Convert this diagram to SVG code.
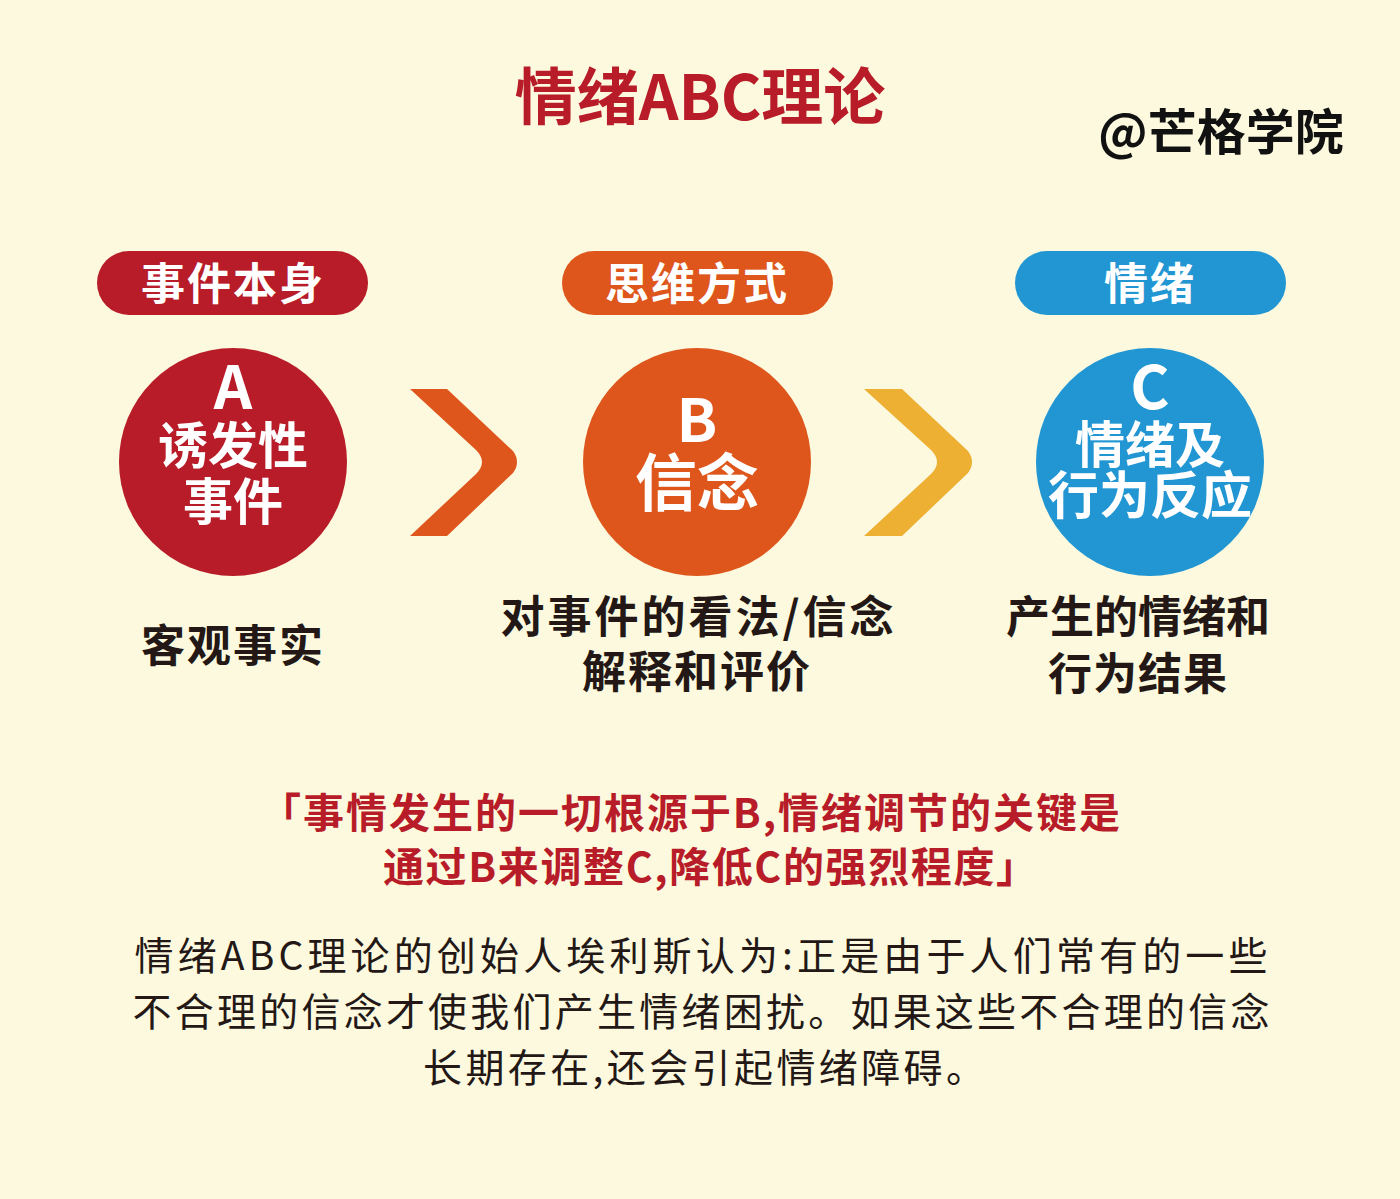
<svg xmlns="http://www.w3.org/2000/svg" width="1400" height="1199" viewBox="0 0 1400 1199">
<style>
.cjk{font-family:"Noto Sans CJK SC","Noto Sans",sans-serif}
.b{font-weight:700}
.w{fill:#FFFFFF}
.red{fill:#B71C28}
.dark{fill:#231815}
.mid{text-anchor:middle}
</style>
<rect x="0" y="0" width="1400" height="1199" fill="#FCF9DF"/>
<g id="title">
<text class="cjk b red mid" x="700" y="120" font-size="62">情绪ABC理论</text>
</g>
<g id="watermark">
<text class="cjk b mid" x="1221" y="150" font-size="49" fill="#111">@芒格学院</text>
</g>
<g id="connectors">
<path d="M410,389 L447,389 L513,451 Q521,462 513,473 L447,536 L410,536 L476,474 Q488,462 476,450 Z" fill="#DE561C"/>
<path d="M864,389 L902,389 L968,451 Q976,462 968,473 L902,536 L864,536 L931,474 Q943,462 931,450 Z" fill="#EDB033"/>
</g>
<g id="node-a">
<rect x="97" y="251" width="271" height="64" rx="32" fill="#B71C28"/>
<text class="cjk b w mid" x="233" y="300" font-size="44" letter-spacing="2">事件本身</text>
<circle cx="233" cy="462" r="114" fill="#B71C28"/>
<text class="cjk b w mid" x="233" y="409" font-size="60">A</text>
<text class="cjk b w mid" x="233" y="464" font-size="50">诱发性</text>
<text class="cjk b w mid" x="233" y="520" font-size="50">事件</text>
<text class="cjk b dark mid" x="233" y="662" font-size="44" letter-spacing="2">客观事实</text>
</g>
<g id="node-b">
<rect x="562" y="251" width="271" height="64" rx="32" fill="#DE561C"/>
<text class="cjk b w mid" x="697" y="300" font-size="44" letter-spacing="2">思维方式</text>
<circle cx="697" cy="462" r="114" fill="#DE561C"/>
<text class="cjk b w mid" x="697" y="442" font-size="60">B</text>
<text class="cjk b w mid" x="697" y="506" font-size="62">信念</text>
<text class="cjk b dark mid" x="697" y="633" font-size="44" textLength="393" lengthAdjust="spacing">对事件的看法/信念</text>
<text class="cjk b dark mid" x="697" y="688" font-size="44" letter-spacing="2">解释和评价</text>
</g>
<g id="node-c">
<rect x="1015" y="251" width="271" height="64" rx="32" fill="#2196D3"/>
<text class="cjk b w mid" x="1150" y="300" font-size="44" letter-spacing="2">情绪</text>
<circle cx="1150" cy="462" r="114" fill="#2196D3"/>
<text class="cjk b w mid" x="1150" y="409" font-size="60">C</text>
<text class="cjk b w mid" x="1150" y="463" font-size="50">情绪及</text>
<text class="cjk b w mid" x="1150" y="514" font-size="51">行为反应</text>
<text class="cjk b dark mid" x="1138" y="633" font-size="44">产生的情绪和</text>
<text class="cjk b dark mid" x="1138" y="690" font-size="44" letter-spacing="1">行为结果</text>
</g>
<g id="quote">
<text class="cjk b red mid" x="690" y="828" font-size="41" textLength="860" lengthAdjust="spacing">「事情发生的一切根源于B,情绪调节的关键是</text>
<text class="cjk b red mid" x="710" y="882" font-size="41" textLength="654" lengthAdjust="spacing">通过B来调整C,降低C的强烈程度」</text>
</g>
<g id="paragraph">
<text class="cjk dark mid" x="701" y="970" font-size="39" textLength="1133" lengthAdjust="spacing">情绪ABC理论的创始人埃利斯认为:正是由于人们常有的一些</text>
<text class="cjk dark mid" x="701" y="1026" font-size="39" textLength="1137" lengthAdjust="spacing">不合理的信念才使我们产生情绪困扰。如果这些不合理的信念</text>
<text class="cjk dark mid" x="704" y="1082" font-size="39" textLength="562" lengthAdjust="spacing">长期存在,还会引起情绪障碍。</text>
</g>
</svg>
